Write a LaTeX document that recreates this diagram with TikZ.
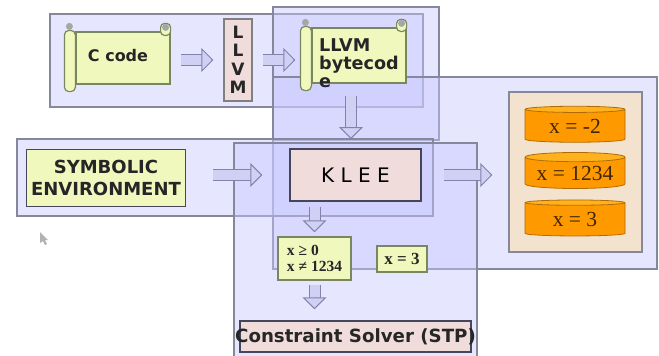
\documentclass[tikz,border=0pt]{standalone}
\usepackage{amsmath}
\usepackage{amssymb}
\usepackage{fontspec}
\setmainfont{Liberation Serif}
\setsansfont{DejaVu Sans}
\usetikzlibrary{arrows.meta}
\usetikzlibrary{calc}
\usetikzlibrary{shapes.geometric}
\definecolor{panelfill}{RGB}{200,200,255}
\definecolor{panelline}{RGB}{135,135,155}
\definecolor{paperfill}{RGB}{240,248,190}
\definecolor{paperline}{RGB}{120,135,95}
\definecolor{pinkfill}{RGB}{240,220,218}
\definecolor{darkline}{RGB}{70,70,90}
\definecolor{arrowfill}{RGB}{208,208,245}
\definecolor{arrowline}{RGB}{130,130,170}
\definecolor{tanfill}{RGB}{243,226,205}
\definecolor{diskfill}{RGB}{255,153,0}
\definecolor{disktop}{RGB}{255,178,30}
\tikzset{
	panel/.style={draw=panelline,line width=1.2pt,fill=panelfill,fill opacity=0.45},
	paperbox/.style={draw=darkline,line width=1.5pt,fill=paperfill,inner sep=0pt},
	pinkbox/.style={draw=darkline,line width=1.5pt,fill=pinkfill,inner sep=0pt},
	scrollbody/.style={draw=paperline,line width=1.2pt,fill=paperfill,inner sep=0pt},
	disknode/.style={cylinder,shape border rotate=90,aspect=0.12,draw=diskfill!70!black,line width=0.8pt,
		cylinder uses custom fill,cylinder body fill=diskfill,cylinder end fill=disktop,
		minimum width=100pt,minimum height=36pt,inner sep=0pt,font=\fontsize{21.5}{21.5}\selectfont,text=black!75!diskfill},
	blockarrow/.style={draw=arrowline,line width=1pt,double=arrowfill,double distance=10pt,
		-{Triangle[length=12pt,width=24pt,fill=arrowfill]}},
	boldlabel/.style={font=\sffamily\bfseries\fontsize{17.6}{18}\selectfont,text=black!85}
}
\newcommand{\scrollcurls}[1]{
	\draw[paperline,line width=1.2pt,fill=paperfill,rounded corners=4pt] ($(#1.north east)+(-10,4)$) rectangle ($(#1.north east)+(0,-8)$);
	\fill[gray!70] ($(#1.north east)+(-5,-4)$) circle (3.5);
	\draw[paperline,line width=1.2pt,fill=paperfill,rounded corners=4.5pt] ($(#1.north west)+(-11,-1)$) rectangle ($(#1.south west)+(0,7)$);
	\fill[gray!70] ($(#1.north west)+(-6,-5)$) circle (3.5);
}
\begin{document}
\begin{tikzpicture}[x=1pt,y=-1pt]
	\useasboundingbox (0,0) rectangle (659,356);
	% background panels
	\draw[panel] (50,14) rectangle (423,107);
	\draw[panel] (273,7) rectangle (439,140);
	\draw[panel] (273,77) rectangle (657,269);
	\draw[panel] (17,139) rectangle (433,216);
	\draw[panel] (234,143) rectangle (477,360);
	
	% top row
	\node[scrollbody,minimum width=94pt,minimum height=52pt] (ccode) at (123,58) {};
	\scrollcurls{ccode}
	\node[boldlabel,font=\sffamily\bfseries\fontsize{16}{16}\selectfont] (ccodetext) at (118,56) {C code};
	\node[pinkbox,minimum width=28pt,minimum height=82pt,draw=gray,line width=1.2pt,boldlabel,align=center,font=\sffamily\bfseries\fontsize{17}{18}\selectfont] (llvm) at (238,60) {L\\[0.5pt]L\\[0.5pt]V\\[0.5pt]M};
	\node[scrollbody,minimum width=94pt,minimum height=55pt] (bytecode) at (359,55.5) {};
	\scrollcurls{bytecode}
	\node[boldlabel,anchor=north west,align=left] (bytecodetext) at (315.7,34.7) {LLVM\\bytecod\\e};
	
	% middle row
	\node[paperbox,minimum width=159pt,minimum height=57pt,font=\sffamily\bfseries\fontsize{18}{22}\selectfont,align=center,text=black!85] (symbolic) at (106,178) {SYMBOLIC\\ENVIRONMENT};
	\node[pinkbox,minimum width=131pt,minimum height=52pt,font=\sffamily\fontsize{20}{20}\selectfont] (klee) at (355.5,175) {K L E E};
	
	% results
	\node[draw=panelline,line width=1.2pt,fill=tanfill,minimum width=133pt,minimum height=160pt] (results) at (575.5,172) {};
	\node[disknode] (diskone) at (575,126) {x = -2};
	\node[disknode] (disktwo) at (575,173) {x = 1234};
	\node[disknode] (diskthree) at (575,219.5) {x = 3};
	
	% constraints
	\node[paperbox,minimum width=73pt,minimum height=43pt,draw=paperline,font=\bfseries\fontsize{15.5}{16}\selectfont,align=left,text=black!85] (pathcond) at (314.5,258.5) {x ≥ 0\\x ≠ 1234};
	\node[paperbox,minimum width=50pt,minimum height=26pt,draw=paperline,font=\bfseries\fontsize{17}{17}\selectfont,text=black!85] (model) at (402,259) {x = 3};
	\node[pinkbox,minimum width=231pt,minimum height=31pt] (solver) at (355.5,336.5) {};
	\node[font=\sffamily\bfseries\fontsize{18.2}{18}\selectfont,text=black!85] (solvertext) at (solver) {Constraint Solver (STP)};
	
	% block arrows
	\coordinate (kleein) at (351,149);
	\draw[blockarrow,shorten <=10pt,shorten >=10pt] (ccode.east |- llvm.west) -- (llvm.west);
	\draw[blockarrow,shorten <=10pt,shorten >=16pt] (llvm.east) -- (llvm.east -| bytecode.west);
	\draw[blockarrow,shorten <=12pt,shorten >=10pt] (kleein |- bytecode.south) -- (kleein);
	\draw[blockarrow,shorten <=27pt,shorten >=27pt] (symbolic.east |- klee.west) -- (klee.west);
	\draw[blockarrow,shorten <=22pt,shorten >=16pt] (klee.east) -- (klee.east -| results.west);
	\draw[blockarrow,shorten <=5pt,shorten >=4pt] (pathcond.north |- klee.south) -- (pathcond.north);
	\draw[blockarrow,shorten <=4pt,shorten >=11pt] (pathcond.south) -- (pathcond.south |- solver.north);
	
	% pointer
	\fill[gray!60] (40,232) -- (40,243) -- (43,241) -- (45,245) -- (47,244) -- (45,240) -- (48,240) -- cycle;
\end{tikzpicture}
\end{document}
